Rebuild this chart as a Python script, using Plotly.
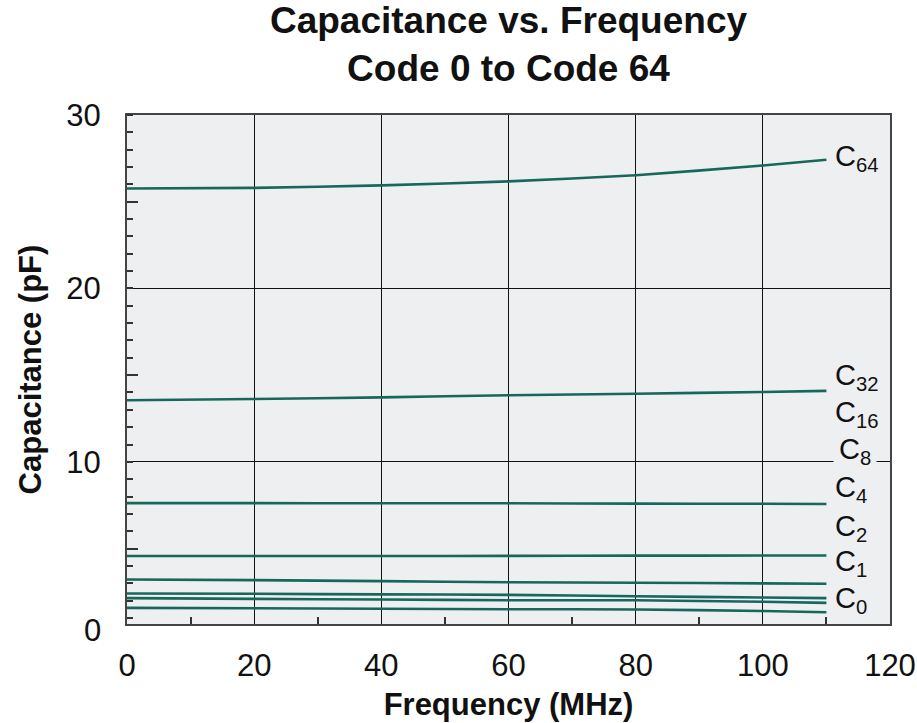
import plotly.graph_objects as go

# ---- data ----
freq = [0, 20, 40, 60, 80, 100, 110]
c64 = [25.76, 25.80, 25.94, 26.17, 26.53, 27.09, 27.42]
c32 = [13.55, 13.62, 13.72, 13.84, 13.93, 14.03, 14.09]
c16 = [7.62, 7.62, 7.61, 7.61, 7.59, 7.58, 7.57]
c8 = [4.57, 4.57, 4.57, 4.58, 4.59, 4.60, 4.60]
c4 = [3.22, 3.18, 3.12, 3.06, 3.03, 2.99, 2.97]
c2 = [2.41, 2.39, 2.36, 2.33, 2.25, 2.18, 2.14]
c1 = [2.14, 2.10, 2.06, 2.02, 2.02, 1.93, 1.87]
c0 = [1.58, 1.56, 1.53, 1.50, 1.49, 1.40, 1.33]

series = [("C64", c64), ("C32", c32), ("C16", c16), ("C8", c8),
          ("C4", c4), ("C2", c2), ("C1", c1), ("C0", c0)]

# end labels (C8 listed first so its background box sits underneath the others)
label_names = ["8", "64", "32", "16", "4", "2", "1", "0"]
label_y = [10.62, 27.5, 14.87, 12.74, 8.41, 6.2, 4.14, 2.03]
label_x = 111.0

x_ticks = [0, 20, 40, 60, 80, 100, 120]
x_minor = [10, 30, 50, 70, 90, 110]
y_ticks = [10, 20, 30]
y_long = [5, 15, 25]

LINE = "#17685c"
BG = "#eeeff1"
FONT = "Liberation Sans, Arial, sans-serif"
YR = [0.65, 30]

fig = go.Figure()
for i, (name, vals) in enumerate(series):
    fig.add_trace(go.Scatter(
        x=freq, y=vals, mode="lines", name=name,
        line=dict(color=LINE, width=2.6, shape="spline", smoothing=0.6),
        yaxis="y2" if i == len(series) - 1 else "y",
        showlegend=False))

annots = []
for nm, yv in zip(label_names, label_y):
    annots.append(dict(
        x=label_x, y=yv, xref="x", yref="y", xanchor="left", yanchor="middle",
        text="C<sub>%s</sub>" % nm, showarrow=False,
        font=dict(family=FONT, size=29, color="#111"),
        bgcolor=BG if nm == "8" else None, borderpad=5 if nm == "8" else 1))
# "0" tick label sits just under the bottom edge of the y axis
annots.append(dict(x=0, y=YR[0], xref="paper", yref="y", xanchor="right", yanchor="middle",
                   xshift=-24, yshift=-6, text="0", showarrow=False,
                   font=dict(family=FONT, size=31, color="#111")))

fig.update_layout(
    width=917, height=723,
    margin=dict(l=127, r=27, t=115, b=99, autoexpand=False),
    paper_bgcolor="white", plot_bgcolor=BG,
    font=dict(family=FONT, color="#111"),
    title=dict(text="Capacitance vs. Frequency<br>Code 0 to Code 64",
               x=0.5, xref="paper", xanchor="center",
               y=0.954, yref="container", yanchor="top", automargin=False,
               font=dict(family=FONT, size=37, weight="bold", color="#111")),
    xaxis=dict(range=[0, 120], tickvals=x_ticks, ticks="", showgrid=True,
               gridcolor="#111", gridwidth=1.3, zeroline=False, automargin=False,
               showline=True, linecolor="#444", linewidth=2, mirror=True,
               tickfont=dict(size=31), ticklabelstandoff=13,
               minor=dict(tickvals=x_minor, ticks="inside", ticklen=7,
                          tickcolor="#333", tickwidth=1.5, showgrid=False),
               title=dict(text="Frequency (MHz)", standoff=11,
                          font=dict(size=31, weight="bold"))),
    yaxis=dict(range=YR, tickvals=y_ticks, ticks="", showgrid=True,
               gridcolor="#111", gridwidth=1.3, zeroline=False, automargin=False,
               showline=True, linecolor="#444", linewidth=2, mirror=True,
               tickfont=dict(size=31), ticklabelstandoff=18,
               minor=dict(dtick=1, tick0=0, ticks="inside", ticklen=6,
                          tickcolor="#333", tickwidth=1.5, showgrid=False),
               title=dict(text="Capacitance (pF)", standoff=15,
                          font=dict(size=31, weight="bold"))),
    yaxis2=dict(range=YR, overlaying="y", side="left", tickvals=y_long,
                ticks="inside", ticklen=11, tickcolor="#333", tickwidth=1.5,
                showticklabels=False, showgrid=False, zeroline=False,
                showline=False, automargin=False),
    annotations=annots,
)

fig.write_html("out.html", config={"displayModeBar": False},
               post_script="document.body.style.margin='0';document.body.style.padding='0';")
